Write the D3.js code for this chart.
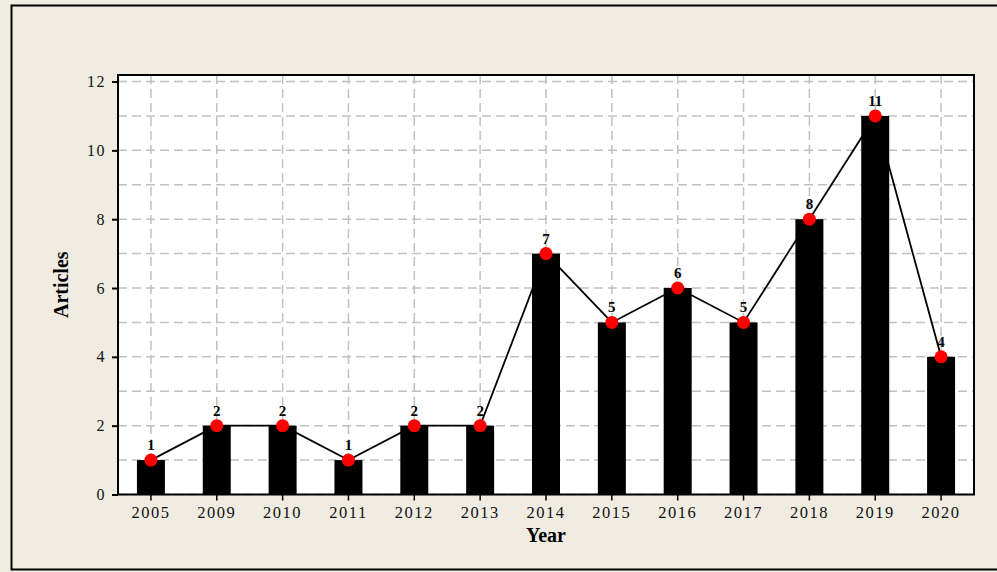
<!DOCTYPE html>
<html>
<head>
<meta charset="utf-8">
<script src="https://cdn.jsdelivr.net/npm/d3@7"></script>
<style>
  body { margin: 0; background: #f0ece2; }
  svg { display: block; }
  text { font-family: "Liberation Serif", "Times New Roman", Times, serif; }
  .tick text { fill: #111; }
</style>
</head>
<body>
<svg id="chart" width="997" height="572"></svg>
<script>
// data
var years = ["2005", "2009", "2010", "2011", "2012", "2013", "2014", "2015", "2016", "2017", "2018", "2019", "2020"];
var articles = [1, 2, 2, 1, 2, 2, 7, 5, 6, 5, 8, 11, 4];
var yTicks = [0, 2, 4, 6, 8, 10, 12];

var serif = "'Liberation Serif', 'Times New Roman', Times, serif";

var margin = { top: 75, right: 23, bottom: 77.5, left: 118 }
    , width = 997 - margin.left - margin.right
    , height = 572 - margin.top - margin.bottom;

var svg = d3.select("#chart");

// outer frame
svg.append("rect")
    .attr("x", 11.5).attr("y", 5.5)
    .attr("width", 1000).attr("height", 564)
    .attr("fill", "#f0ece2")
    .attr("stroke", "#000").attr("stroke-width", 2);

var g = svg.append("g")
    .attr("transform", "translate(" + margin.left + "," + margin.top + ")");

var x = d3.scaleBand()
    .domain(years)
    .range([0, width])
    .paddingInner(0.575)
    .paddingOuter(0.2875);

var y = d3.scaleLinear()
    .domain([0, 12.19])
    .range([height, 0]);

g.append("rect")
    .attr("width", width).attr("height", height)
    .attr("fill", "#fff");

// grid
var gridY = d3.range(0, 13);
g.append("g").selectAll("line")
    .data(gridY)
    .enter().append("line")
    .attr("x1", 0).attr("x2", width)
    .attr("y1", function (d) { return y(d); })
    .attr("y2", function (d) { return y(d); })
    .attr("stroke", "#c0c0c0")
    .attr("stroke-width", 1.5)
    .attr("stroke-dasharray", "9,5");

g.append("g").selectAll("line")
    .data(years)
    .enter().append("line")
    .attr("x1", function (d) { return x(d) + x.bandwidth() / 2; })
    .attr("x2", function (d) { return x(d) + x.bandwidth() / 2; })
    .attr("y1", 0).attr("y2", height)
    .attr("stroke", "#c0c0c0")
    .attr("stroke-width", 1.5)
    .attr("stroke-dasharray", "9,5");

// bars
g.append("g").selectAll("rect")
    .data(articles)
    .enter().append("rect")
    .attr("x", function (d, i) { return x(years[i]); })
    .attr("width", x.bandwidth())
    .attr("y", function (d) { return y(d); })
    .attr("height", function (d) { return height - y(d); })
    .attr("fill", "#000");

// line
var line = d3.line()
    .x(function (d, i) { return x(years[i]) + x.bandwidth() / 2; })
    .y(function (d) { return y(d); });

g.append("path")
    .datum(articles)
    .attr("d", line)
    .attr("fill", "none")
    .attr("stroke", "#000")
    .attr("stroke-width", 1.8);

g.append("g").selectAll("circle")
    .data(articles)
    .enter().append("circle")
    .attr("cx", function (d, i) { return x(years[i]) + x.bandwidth() / 2; })
    .attr("cy", function (d) { return y(d); })
    .attr("r", 6.5)
    .attr("fill", "#ff0000");

g.append("g").selectAll("text")
    .data(articles)
    .enter().append("text")
    .attr("x", function (d, i) { return x(years[i]) + x.bandwidth() / 2; })
    .attr("y", function (d) { return y(d) - 10; })
    .attr("text-anchor", "middle")
    .style("font-family", serif)
    .style("font-weight", "bold")
    .style("font-size", "15px")
    .text(function (d) { return d; });

// plot frame
g.append("rect")
    .attr("width", width).attr("height", height)
    .attr("fill", "none")
    .attr("stroke", "#000").attr("stroke-width", 2);

// axes
var xAxis = g.append("g")
    .attr("transform", "translate(0," + height + ")")
    .call(d3.axisBottom(x).tickSize(6).tickSizeOuter(0));
xAxis.attr("font-family", null);
xAxis.select(".domain").remove();
xAxis.selectAll(".tick line").attr("stroke-width", 1.5);
xAxis.selectAll(".tick text")
    .attr("y", 12)
    .style("font-family", serif)
    .style("font-size", "16.5px")
    .style("letter-spacing", "1.5px");

var yAxis = g.append("g")
    .call(d3.axisLeft(y).tickValues(yTicks).tickSize(6).tickSizeOuter(0));
yAxis.attr("font-family", null);
yAxis.select(".domain").remove();
yAxis.selectAll(".tick line").attr("stroke-width", 2);
yAxis.selectAll(".tick text")
    .attr("x", -12)
    .style("font-family", serif)
    .style("font-size", "16px")
    .style("letter-spacing", "1.5px");

// axis titles
svg.append("text")
    .attr("x", margin.left + width / 2)
    .attr("y", 542)
    .attr("text-anchor", "middle")
    .style("font-family", serif)
    .style("font-weight", "bold")
    .style("font-size", "20px")
    .text("Year");

svg.append("text")
    .attr("transform", "translate(68," + (margin.top + height / 2) + ") rotate(-90)")
    .attr("text-anchor", "middle")
    .style("font-family", serif)
    .style("font-weight", "bold")
    .style("font-size", "20px")
    .text("Articles");
</script>
</body>
</html>
